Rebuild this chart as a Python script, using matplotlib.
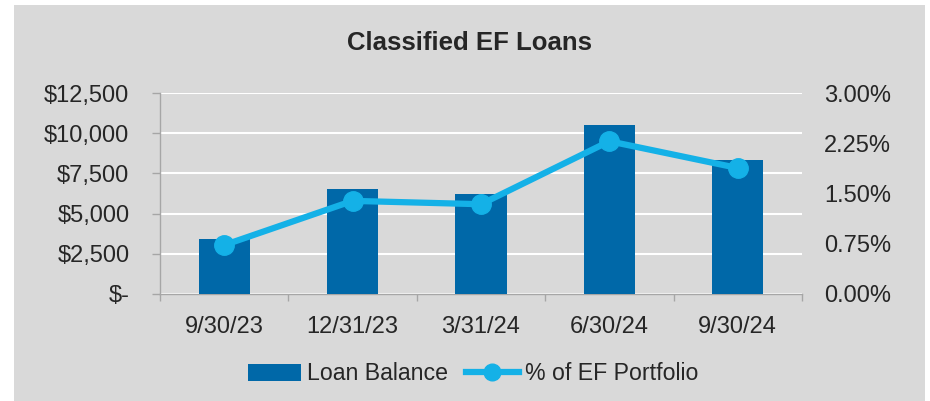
import numpy as np
import matplotlib
matplotlib.use('Agg')
import matplotlib.pyplot as plt
from matplotlib.patches import Rectangle
from matplotlib.ticker import FuncFormatter
from matplotlib.lines import Line2D
from matplotlib.patches import Patch

plt.rcParams['font.family'] = ['Liberation Sans', 'DejaVu Sans']

quarters = ['9/30/23', '12/31/23', '3/31/24', '6/30/24', '9/30/24']
loan_balance = [3450, 6500, 6250, 10500, 8350]
pct_portfolio = [0.73, 1.39, 1.34, 2.28, 1.88]

bar_col = '#0068a8'
line_col = '#14b1e7'
txt_col = '#262626'
grey = '#d9d9d9'
axcol = '#a6a6a6'
fs = 17

fig = plt.figure(figsize=(9.30, 4.01), dpi=100)
fig.patch.set_facecolor('white')
fig.patches.append(Rectangle((14/930, 0), (925-14)/930, (401-5)/401,
                             transform=fig.transFigure, facecolor=grey,
                             edgecolor='none', zorder=-10))

ax = fig.add_axes([160/930, (401-294)/401, (802-160)/930, (294-93)/401])
ax.set_facecolor('none')
x = np.arange(len(quarters))
ax.bar(x, loan_balance, width=0.4, color=bar_col, zorder=3)
ax.set_xlim(-0.5, len(quarters)-0.5)
ax.set_ylim(0, 12500)
ax.set_yticks(np.arange(0, 12501, 2500))
ax.yaxis.set_major_formatter(FuncFormatter(lambda v, p: '$-' if v == 0 else '${:,.0f}'.format(v)))
ax.grid(axis='y', color='white', linewidth=1.5, zorder=0)
ax.set_axisbelow(True)
for s in ['top', 'right']:
    ax.spines[s].set_visible(False)
for s in ['left', 'bottom']:
    ax.spines[s].set_color(axcol)
    ax.spines[s].set_linewidth(1.0)
ax.tick_params(axis='y', colors=axcol, length=6, width=1.0, labelcolor=txt_col,
               labelsize=fs, pad=16)
ax.set_xticks(np.arange(-0.5, len(quarters), 1.0))
ax.set_xticklabels([])
ax.set_xticks(x, minor=True)
ax.set_xticklabels(quarters, minor=True)
ax.tick_params(axis='x', which='major', colors=axcol, length=5, width=1.0)
ax.tick_params(axis='x', which='minor', length=0, labelcolor=txt_col, labelsize=fs, pad=16)

ax2 = ax.twinx()
ax2.plot(x, pct_portfolio, color=line_col, linewidth=4.5, marker='o', markersize=14, zorder=5)
ax2.set_ylim(0, 3.0)
ax2.set_yticks(np.arange(0, 3.01, 0.75))
ax2.yaxis.set_major_formatter(FuncFormatter(lambda v, p: '{:.2f}%'.format(v)))
for s in ax2.spines.values():
    s.set_visible(False)
ax2.tick_params(axis='y', length=0, labelcolor=txt_col, labelsize=fs, pad=16)

fig.text(469/930, 1 - 43/401, 'Classified EF Loans', ha='center', va='center',
         fontsize=18.5, fontweight='bold', color=txt_col)

handles = [Patch(facecolor=bar_col, label='Loan Balance'),
           Line2D([0], [0], color=line_col, linewidth=4.5, marker='o', markersize=12,
                  label='% of EF Portfolio')]
fig.legend(handles=handles, loc='center', bbox_to_anchor=(473/930, 1 - 374/401),
           ncol=2, frameon=False, fontsize=16.7, handlelength=2.3, handletextpad=0.25,
           columnspacing=0.75, labelcolor=txt_col)

plt.savefig('out.png', dpi=100)
